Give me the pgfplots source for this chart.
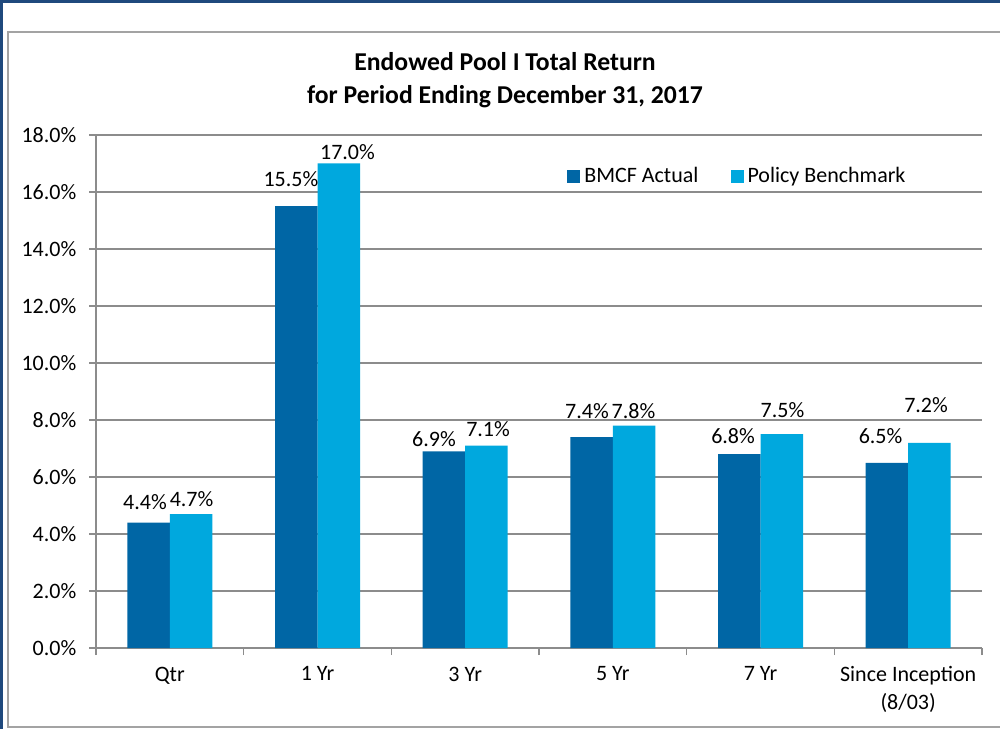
\documentclass[border=0pt]{standalone}
\usepackage{pgfplots}
\pgfplotsset{compat=1.18}
\usepackage{fontspec}
\setmainfont{Carlito}
\definecolor{bdark}{RGB}{0,102,165}
\definecolor{bcyan}{RGB}{0,168,222}
\definecolor{gridg}{RGB}{140,140,140}
\definecolor{frameblue}{RGB}{31,73,125}
\begin{document}
\fontsize{11}{14}\selectfont
\begin{tikzpicture}
\useasboundingbox (0,0) rectangle (500pt,364pt);
\fill[white] (0,0) rectangle (500pt,364pt);
\draw[gridg!80, line width=1pt] (510pt,0.5pt) -- (3.75pt,0.5pt) -- (3.75pt,348pt) -- (510pt,348pt);
\draw[frameblue, line width=1.5pt] (0.75pt,-5pt) -- (0.75pt,363.25pt) -- (510pt,363.25pt);
\node[align=center, font=\fontsize{12.85}{16.5}\selectfont\bfseries] at (252.5pt,323.75pt) {Endowed Pool I Total Return\\for Period Ending December 31, 2017};
\begin{axis}[
  at={(48pt,40pt)}, anchor=south west,
  scale only axis, width=443pt, height=256.5pt,
  xmin=-0.5, xmax=5.5, ymin=0, ymax=18,
  xtick={-0.5,0.5,1.5,2.5,3.5,4.5,5.5},
  x tick label as interval,
  xticklabels={Qtr,1 Yr,3 Yr,5 Yr,7 Yr,{Since Inception\\(8/03)}},
  xticklabel style={align=center, font=\fontsize{11}{14}\selectfont, yshift=-2pt},
  ytick={0,2,...,18},
  /pgf/number format/assume math mode=true,
  yticklabel={\pgfmathprintnumber[fixed,fixed zerofill,precision=1]{\tick}\%},
  yticklabel style={font=\fontsize{11}{14}\selectfont, xshift=-2.5pt},
  axis x line*=bottom, axis y line*=left,
  axis line style={gridg, line width=0.75pt},
  tick align=outside, major tick length=3.5pt,
  tick style={gridg, line width=0.75pt},
  ymajorgrids, grid style={gridg, line width=0.75pt},
  legend style={draw=none, fill=none, at={(0.5248,0.92)}, anchor=west, font=\fontsize{11}{14}\selectfont, /tikz/every even column/.append style={column sep=14pt}},
  legend columns=2,
  sq/.style={legend image code/.code={\fill[##1] (0pt,-3.25pt) rectangle (6.5pt,3.25pt);}},
]
\addplot[ybar, bar width=21.25pt, bar shift=-10.625pt, fill=bdark, draw=none, sq] coordinates {(0,4.4) (1,15.5) (2,6.9) (3,7.4) (4,6.8) (5,6.5)};
\addlegendentry{BMCF Actual}
\addplot[ybar, bar width=21.25pt, bar shift=10.625pt, fill=bcyan, draw=none, sq] coordinates {(0,4.7) (1,17.0) (2,7.1) (3,7.8) (4,7.5) (5,7.2)};
\addlegendentry{Policy Benchmark}
% data labels, placed where the reference has them
\addplot[draw=none, mark=none, forget plot, point meta=explicit,
  nodes near coords={\pgfmathprintnumber[fixed,fixed zerofill,precision=1]{\pgfplotspointmeta}\%},
  every node near coord/.style={anchor=center, inner sep=0pt, font=\fontsize{11}{14}\selectfont, text=black}]
  table[x=x, y=y, meta=v] {
x y v
-0.168 5.13 4.4
0.147 5.22 4.7
0.820 16.46 15.5
1.203 17.40 17.0
1.789 7.32 6.9
2.155 7.69 7.1
2.825 8.32 7.4
3.140 8.32 7.8
3.814 7.43 6.8
4.149 8.34 7.5
4.813 7.43 6.5
5.121 8.52 7.2
};
\end{axis}
\end{tikzpicture}
\end{document}
